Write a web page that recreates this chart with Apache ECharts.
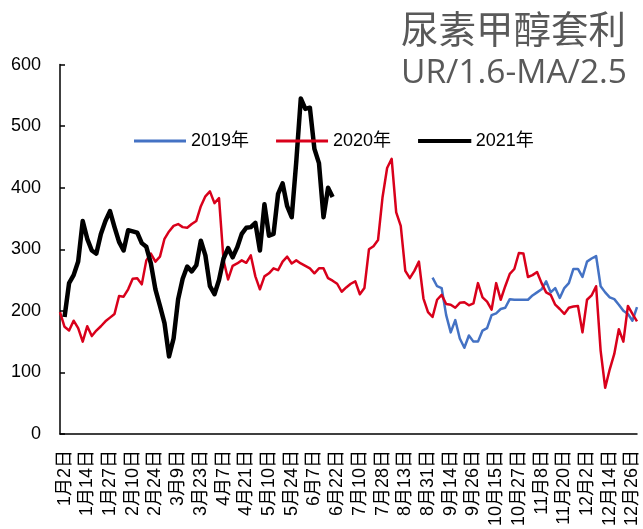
<!DOCTYPE html>
<html>
<head>
<meta charset="utf-8">
<script src="https://cdn.jsdelivr.net/npm/echarts@6/dist/echarts.min.js"></script>
<style>
  html, body { margin: 0; padding: 0; background: #fff; }
  #chart { width: 643px; height: 529px; }
</style>
</head>
<body>
<div id="chart"></div>
<script>
// x轴刻度文字（每5个点一个）
const tickLabels = ['1月2日', '1月14日', '1月27日', '2月10日', '2月24日', '3月9日', '3月23日', '4月7日',
  '4月21日', '5月10日', '5月24日', '6月7日', '6月22日', '7月10日', '7月28日', '8月13日', '8月31日',
  '9月14日', '9月26日', '10月15日', '10月27日', '11月8日', '11月20日', '12月2日', '12月14日', '12月26日'];
const pointCount = 128;
const labelStart = 1;
const labelStep = 5;

// 2020年 从第0个点开始
const start2020 = 0;
const values2020 = [
  198, 174, 168, 184, 172, 150, 175, 159, 168, 175,
  183, 189, 195, 224, 223, 235, 252, 253, 243, 282,
  293, 280, 288, 317, 329, 338, 341, 336, 335, 341,
  346, 370, 386, 394, 375, 383, 282, 251, 273, 277,
  282, 278, 290, 256, 235, 256, 261, 269, 266, 280,
  288, 277, 282, 277, 273, 269, 261, 269, 269, 253,
  249, 244, 231, 238, 244, 248, 227, 237, 300, 305,
  315, 385, 432, 447, 360, 338, 265, 253, 265, 280,
  220, 198, 190, 218, 226, 211, 210, 205, 213, 214,
  209, 212, 245, 222, 215, 202, 245, 218, 240, 260,
  268, 294, 293, 255, 258, 263, 245, 230, 226, 210,
  203, 195, 205, 207, 208, 165, 218, 225, 240, 135,
  75, 105, 130, 170, 150, 208, 195, 183
];

// 2019年 从8月底开始
const start2019 = 82;
const values2019 = [
  254, 240, 237, 193, 165, 185, 155, 140, 160, 150,
  150, 168, 172, 193, 196, 203, 205, 219, 218, 218,
  218, 218, 225, 230, 235, 248, 230, 237, 221, 237,
  245, 268, 268, 255, 280, 285, 289, 240, 230, 222,
  219, 210, 200, 195, 184, 206
];

// 2021年 到6月下旬
const start2021 = 1;
const values2021 = [
  190, 245, 258, 280, 346, 317, 298, 293, 325, 346,
  362, 336, 312, 298, 331, 329, 327, 310, 304, 277,
  235, 208, 180, 126, 155, 219, 252, 272, 264, 274,
  314, 290, 240, 227, 250, 285, 302, 287, 303, 325,
  335, 336, 343, 298, 373, 322, 325, 390, 407, 370,
  352, 442, 545, 528, 530, 463, 440, 352, 400, 385
];

const yMin = 0;
const yMax = 600;
const yStep = 100;

// 补齐到统一长度
function pad(start, values) {
  const out = new Array(pointCount).fill(null);
  values.forEach(function (v, i) { out[start + i] = v; });
  return out;
}

const categories = new Array(pointCount).fill('');
tickLabels.forEach(function (t, j) { categories[labelStart + j * labelStep] = t; });

const font = '"Liberation Sans", Arial, "Noto Sans CJK SC", sans-serif';
const myChart = echarts.init(document.getElementById('chart'));

const option = {
  animation: false,
  backgroundColor: '#fff',
  title: {
    text: '尿素甲醇套利',
    subtext: 'UR/1.6-MA/2.5',
    right: 11,
    top: 5,
    itemGap: 9,
    textStyle: {
      fontFamily: '"Noto Sans CJK SC", sans-serif',
      fontSize: 37.5,
      fontWeight: 'normal',
      color: '#595959'
    },
    subtextStyle: {
      fontFamily: '"Open Sans", sans-serif',
      fontSize: 33.5,
      color: '#595959'
    }
  },
  // 图例：细线图标，2021年加粗
  legend: {
    left: 129,
    top: 127,
    icon: 'rect',
    itemWidth: 52,
    itemHeight: 3,
    itemGap: 27,
    textStyle: { fontFamily: font, fontSize: 18, color: '#000' },
    data: [
      { name: '2019年' },
      { name: '2020年' },
      { name: '2021年', itemStyle: { borderColor: '#000', borderWidth: 1.2 } }
    ]
  },
  grid: {
    left: 60,
    right: 6,
    top: 64.6,
    bottom: 88.3
  },
  xAxis: {
    type: 'category',
    boundaryGap: false,
    data: categories,
    axisLine: { show: true, lineStyle: { color: '#000', width: 1.5 } },
    axisTick: { show: false },
    splitLine: { show: false },
    axisLabel: {
      rotate: 90,
      margin: 16,
      fontFamily: font,
      fontSize: 18,
      color: '#000',
      interval: function (i, v) { return v !== ''; }
    }
  },
  yAxis: {
    type: 'value',
    min: yMin,
    max: yMax,
    interval: yStep,
    axisLine: { show: true, lineStyle: { color: '#000', width: 1.5 } },
    axisTick: { show: true, inside: true, length: 5, lineStyle: { color: '#000', width: 1.5 } },
    splitLine: { show: false },
    axisLabel: { margin: 19, fontFamily: font, fontSize: 18, color: '#000' }
  },
  series: [
    {
      name: '2019年',
      type: 'line',
      symbol: 'none',
      data: pad(start2019, values2019),
      lineStyle: { width: 2.5, color: '#4472C4', join: 'round' },
      itemStyle: { color: '#4472C4' }
    },
    {
      name: '2020年',
      type: 'line',
      symbol: 'none',
      data: pad(start2020, values2020),
      lineStyle: { width: 2.5, color: '#D9001B', join: 'round' },
      itemStyle: { color: '#D9001B' }
    },
    {
      name: '2021年',
      type: 'line',
      symbol: 'none',
      data: pad(start2021, values2021),
      lineStyle: { width: 4.5, color: '#000', join: 'round' },
      itemStyle: { color: '#000' }
    }
  ]
};

myChart.setOption(option);
window.addEventListener('resize', function () {
  myChart.resize();
});
</script>
</body>
</html>
